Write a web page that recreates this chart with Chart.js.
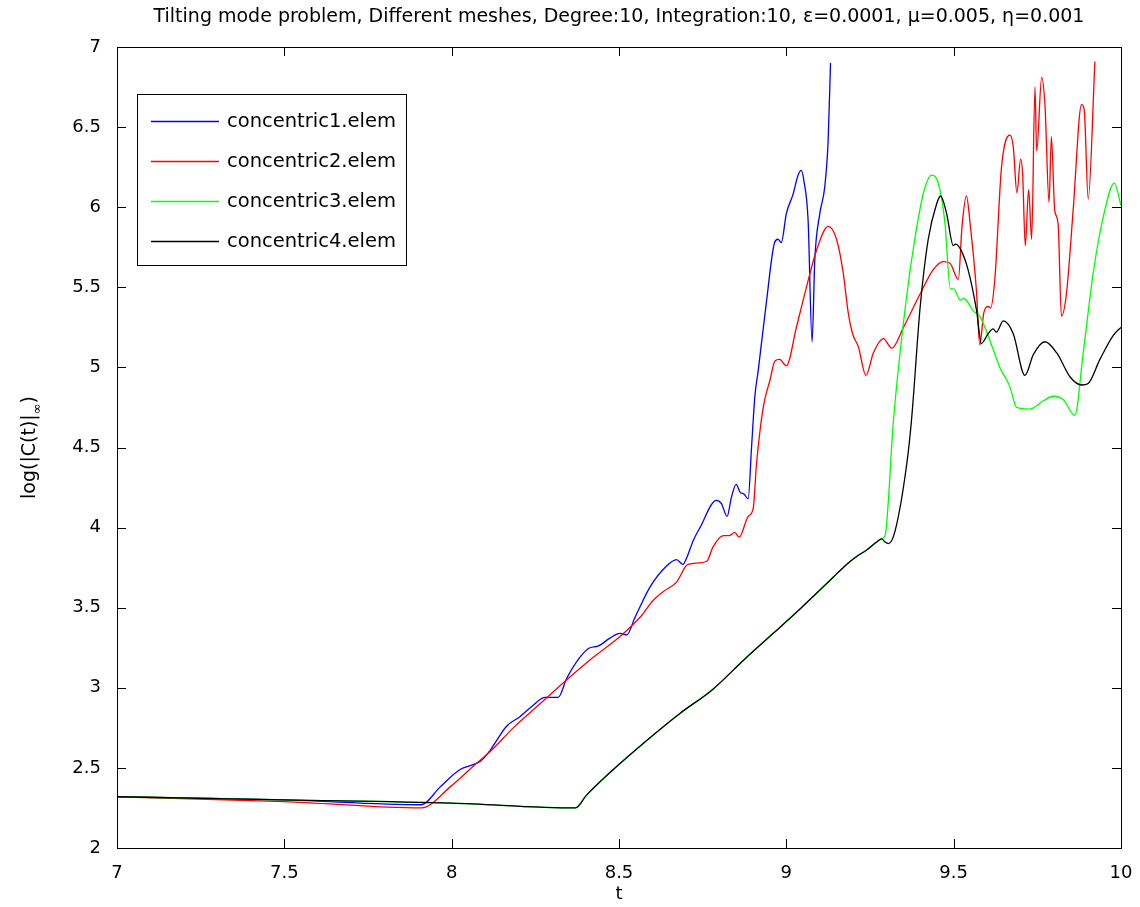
<!DOCTYPE html>
<html lang="en">
<head>
<meta charset="UTF-8">
<title>Tilting mode problem</title>
<script src="https://cdn.jsdelivr.net/npm/chart.js"></script>
<style>
    html, body { margin: 0; padding: 0; background: #fff; }
    #wrap { width: 1140px; height: 907px; }
</style>
</head>
<body>
<div id="wrap"><canvas id="chart" width="1140" height="907"></canvas></div>
<script>
const titleText = "Tilting mode problem, Different meshes, Degree:10, Integration:10, \u03b5=0.0001, \u03bc=0.005, \u03b7=0.001";
const xLabel = "t";
const seriesNames = ["concentric1.elem", "concentric2.elem", "concentric3.elem", "concentric4.elem"];
const seriesColors = ["#0000ff", "#ff0000", "#00ff00", "#000000"];

// concentric1
const t1 = [7, 7.5, 7.91, 7.965, 8.025, 8.064, 8.085, 8.115, 8.164, 8.204, 8.243, 8.279, 8.318, 8.344,
    8.383, 8.413, 8.437, 8.473, 8.503, 8.523, 8.548, 8.593, 8.642, 8.672, 8.691, 8.7, 8.722, 8.742,
    8.791, 8.806, 8.823, 8.836, 8.85, 8.862, 8.873, 8.886, 8.896, 8.906, 8.916, 8.94, 8.965, 8.975,
    8.985, 9.0, 9.02, 9.035, 9.045, 9.052, 9.065, 9.077, 9.085, 9.1, 9.115, 9.125, 9.132];
const v1 = [2.32, 2.3, 2.27, 2.38, 2.49, 2.52, 2.54, 2.61, 2.76, 2.82, 2.89, 2.94, 2.94, 3.06,
    3.19, 3.25, 3.26, 3.31, 3.34, 3.33, 3.44, 3.63, 3.76, 3.8, 3.77, 3.8, 3.92, 4.0,
    4.17, 4.15, 4.07, 4.19, 4.27, 4.22, 4.21, 4.18, 4.5, 4.82, 4.98, 5.4, 5.78, 5.8,
    5.78, 5.96, 6.08, 6.2, 6.23, 6.17, 5.92, 5.16, 5.67, 5.96, 6.13, 6.42, 6.9];

// concentric2
const t2 = [7, 7.5, 7.91, 7.995, 8.075, 8.124, 8.184, 8.264, 8.344, 8.423, 8.503, 8.567, 8.6, 8.632,
    8.672, 8.706, 8.762, 8.781, 8.812, 8.83, 8.846, 8.859, 8.886, 8.901, 8.911, 8.931, 8.951, 8.966,
    8.98, 9.0, 9.03, 9.06, 9.09, 9.125, 9.15, 9.17, 9.185, 9.198, 9.215, 9.238, 9.26, 9.29, 9.315,
    9.35, 9.4, 9.439, 9.469, 9.489, 9.514, 9.525, 9.538, 9.55, 9.568, 9.578, 9.59, 9.603, 9.61,
    9.623, 9.643, 9.668, 9.678, 9.689, 9.7, 9.706, 9.714, 9.724, 9.733, 9.743, 9.748, 9.763, 9.773,
    9.785, 9.792, 9.802, 9.812, 9.822, 9.837, 9.857, 9.882, 9.89, 9.902, 9.922];
const v2 = [2.32, 2.29, 2.25, 2.38, 2.53, 2.62, 2.75, 2.9, 3.05, 3.19, 3.32, 3.45, 3.54, 3.6,
    3.66, 3.77, 3.79, 3.88, 3.95, 3.95, 3.97, 3.94, 4.07, 4.12, 4.4, 4.75, 4.92, 5.04,
    5.05, 5.01, 5.25, 5.5, 5.73, 5.88, 5.8, 5.59, 5.34, 5.21, 5.13, 4.95, 5.09, 5.18, 5.12,
    5.25, 5.46, 5.61, 5.66, 5.65, 5.55, 5.88, 6.07, 5.88, 5.48, 5.14, 5.34, 5.38, 5.37,
    5.55, 6.25, 6.45, 6.38, 6.09, 6.3, 6.21, 5.76, 6.11, 5.8, 6.75, 6.35, 6.81, 6.63,
    6.03, 6.44, 5.98, 5.9, 5.32, 5.46, 5.98, 6.64, 6.61, 6.05, 6.91];

// concentric3
const t3 = [7, 7.5, 8.0, 8.37, 8.403, 8.483, 8.582, 8.682, 8.78, 8.876, 8.961, 9.04, 9.08, 9.14,
    9.18, 9.21, 9.24, 9.27, 9.285, 9.295, 9.32, 9.35, 9.38, 9.41, 9.434, 9.454, 9.474, 9.49, 9.5,
    9.52, 9.53, 9.56, 9.578, 9.608, 9.638, 9.668, 9.688, 9.728, 9.767, 9.797, 9.827, 9.862, 9.887,
    9.917, 9.947, 9.98, 10.0];
const v3 = [2.32, 2.3, 2.28, 2.25, 2.33, 2.49, 2.67, 2.84, 2.99, 3.18, 3.34, 3.49, 3.57, 3.69,
    3.77, 3.82, 3.86, 3.91, 3.93, 3.95, 4.67, 5.28, 5.75, 6.09, 6.2, 6.15, 5.9, 5.49, 5.49,
    5.42, 5.43, 5.35, 5.32, 5.17, 5.0, 4.88, 4.75, 4.74, 4.79, 4.82, 4.8, 4.7, 5.09,
    5.59, 5.94, 6.15, 6.01];

// concentric4
const t4 = [7, 7.5, 8.0, 8.37, 8.403, 8.483, 8.582, 8.682, 8.78, 8.876, 8.961, 9.04, 9.08, 9.14,
    9.18, 9.21, 9.24, 9.27, 9.285, 9.295, 9.305, 9.325, 9.36, 9.374, 9.4, 9.424, 9.449, 9.461,
    9.479, 9.499, 9.505, 9.52, 9.543, 9.568, 9.583, 9.603, 9.618, 9.628, 9.648, 9.678, 9.713,
    9.738, 9.773, 9.808, 9.848, 9.883, 9.902, 9.937, 9.977, 10.0];
const v4 = [2.32, 2.3, 2.28, 2.25, 2.33, 2.49, 2.67, 2.84, 2.99, 3.18, 3.34, 3.49, 3.57, 3.69,
    3.77, 3.82, 3.86, 3.91, 3.93, 3.91, 3.9, 3.98, 4.4, 4.67, 5.38, 5.8, 6.02, 6.07,
    5.96, 5.76, 5.77, 5.74, 5.61, 5.36, 5.15, 5.21, 5.24, 5.22, 5.29, 5.21, 4.95,
    5.08, 5.16, 5.09, 4.94, 4.89, 4.9, 5.05, 5.2, 5.25];

const xMin = 7, xMax = 10, xStep = 0.5;
const yMin = 2, yMax = 7, yStep = 0.5;

const FONT = "'DejaVu Sans', Arial, sans-serif";

function toPoints(ts, vs) {
    return ts.map((t, i) => ({ x: t, y: vs[i] }));
}

const allT = [t1, t2, t3, t4];
const allV = [v1, v2, v3, v4];

const datasets = seriesNames.map((name, i) => ({
    label: name,
    data: toPoints(allT[i], allV[i]),
    borderColor: seriesColors[i],
    backgroundColor: seriesColors[i],
    borderWidth: 1.3,
    pointRadius: 0,
    fill: false,
    cubicInterpolationMode: "monotone",
    order: 3 - i   // later series drawn on top, like matlab
}));

// box around plot + inward ticks on all four sides
const framePlugin = {
    id: "frame",
    afterDraw(chart) {
        const { ctx, chartArea: a, scales } = chart;
        const len = 9;
        ctx.save();
        ctx.strokeStyle = "#000";
        ctx.lineWidth = 1;
        ctx.strokeRect(Math.round(a.left) + 0.5, Math.round(a.top) + 0.5,
            Math.round(a.right - a.left), Math.round(a.bottom - a.top));
        ctx.beginPath();
        scales.x.ticks.forEach(tk => {
            const px = Math.round(scales.x.getPixelForValue(tk.value)) + 0.5;
            ctx.moveTo(px, a.bottom); ctx.lineTo(px, a.bottom - len);
            ctx.moveTo(px, a.top); ctx.lineTo(px, a.top + len);
        });
        scales.y.ticks.forEach(tk => {
            const py = Math.round(scales.y.getPixelForValue(tk.value)) + 0.5;
            ctx.moveTo(a.left, py); ctx.lineTo(a.left + len, py);
            ctx.moveTo(a.right, py); ctx.lineTo(a.right - len, py);
        });
        ctx.stroke();
        ctx.restore();
    }
};

// boxed legend inside the axes, top left
const legendPlugin = {
    id: "boxLegend",
    afterDraw(chart) {
        const { ctx, chartArea: a } = chart;
        const x0 = a.left + 20, y0 = a.top + 47;
        const w = 269, h = 171;
        ctx.save();
        ctx.fillStyle = "#fff";
        ctx.fillRect(x0, y0, w, h);
        ctx.strokeStyle = "#000";
        ctx.lineWidth = 1;
        ctx.strokeRect(x0 + 0.5, y0 + 0.5, w, h);
        ctx.font = "19.5px " + FONT;
        ctx.textBaseline = "middle";
        chart.data.datasets.forEach((ds, i) => {
            const yy = Math.round(y0 + 27 + i * 40) + 0.5;
            ctx.strokeStyle = ds.borderColor;
            ctx.lineWidth = 1.3;
            ctx.beginPath();
            ctx.moveTo(x0 + 14, yy);
            ctx.lineTo(x0 + 82, yy);
            ctx.stroke();
            ctx.fillStyle = "#000";
            ctx.fillText(ds.label, x0 + 90, yy);
        });
        ctx.restore();
    }
};

// y axis label with the infinity subscript
const yTitlePlugin = {
    id: "yTitle",
    afterDraw(chart) {
        const { ctx, chartArea: a } = chart;
        const main = "log(|C(t)|", sub = "\u221e", tail = ")";
        ctx.save();
        ctx.translate(30, (a.top + a.bottom) / 2);
        ctx.rotate(-Math.PI / 2);
        ctx.fillStyle = "#000";
        ctx.textBaseline = "middle";
        ctx.font = "19px " + FONT;
        const wMain = ctx.measureText(main).width;
        const wTail = ctx.measureText(tail).width;
        ctx.font = "13px " + FONT;
        const wSub = ctx.measureText(sub).width;
        const total = wMain + wSub + wTail;
        let x = -total / 2;
        ctx.font = "19px " + FONT;
        ctx.fillText(main, x, 0);
        x += wMain;
        ctx.font = "13px " + FONT;
        ctx.fillText(sub, x, 8);
        x += wSub;
        ctx.font = "19px " + FONT;
        ctx.fillText(tail, x, 0);
        ctx.restore();
    }
};

const ctx = document.getElementById("chart").getContext("2d");
const chart = new Chart(ctx, {
    type: "line",
    data: { datasets: datasets },
    options: {
        responsive: false,
        animation: false,
        layout: { padding: { left: 0, right: 19, top: 0, bottom: 0 } },
        plugins: {
            legend: { display: false },
            tooltip: { enabled: false },
            title: {
                display: true,
                fullSize: false,
                text: titleText,
                color: "#000",
                font: { family: FONT, size: 19, weight: "normal" },
                padding: { top: 6, bottom: 18.2 }
            }
        },
        scales: {
            x: {
                type: "linear",
                min: xMin,
                max: xMax,
                grid: { display: false },
                border: { display: false },
                ticks: {
                    stepSize: xStep,
                    color: "#000",
                    padding: 7,
                    maxRotation: 0,
                    font: { family: FONT, size: 18 },
                    callback: v => String(v)
                },
                title: {
                    display: true,
                    text: xLabel,
                    color: "#000",
                    font: { family: FONT, size: 18 },
                    padding: { top: 0, bottom: 2 }
                },
                afterFit(scale) {
                    scale.height = 59;
                    scale.paddingLeft = 0;
                    scale.paddingRight = 0;
                }
            },
            y: {
                type: "linear",
                min: yMin,
                max: yMax,
                grid: { display: false },
                border: { display: false },
                ticks: {
                    stepSize: yStep,
                    color: "#000",
                    padding: 8,
                    font: { family: FONT, size: 18 },
                    callback: v => String(v)
                },
                afterFit(scale) { scale.width = 117; }
            }
        }
    },
    plugins: [framePlugin, legendPlugin, yTitlePlugin]
});
</script>
</body>
</html>
